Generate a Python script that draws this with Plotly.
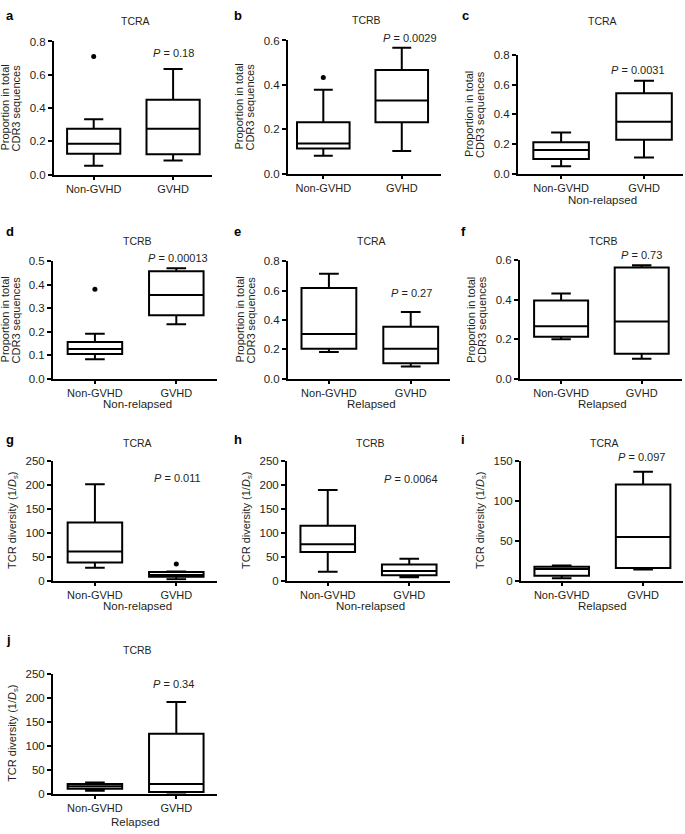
import plotly.graph_objects as go

W, H = 685, 834

categories = ["Non-GVHD", "GVHD"]

# box stats: [lower whisker, Q1, median, Q3, upper whisker]
a_non = [0.053, 0.125, 0.185, 0.275, 0.333]
a_gvhd = [0.085, 0.122, 0.275, 0.45, 0.635]
a_outliers = [0.71]

b_non = [0.08, 0.113, 0.136, 0.231, 0.378]
b_gvhd = [0.102, 0.231, 0.33, 0.467, 0.567]
b_outliers = [0.433]

c_non = [0.049, 0.098, 0.16, 0.211, 0.278]
c_gvhd = [0.109, 0.229, 0.351, 0.544, 0.627]

d_non = [0.082, 0.105, 0.126, 0.156, 0.191]
d_gvhd = [0.232, 0.27, 0.356, 0.457, 0.47]
d_outliers = [0.381]

e_non = [0.181, 0.203, 0.304, 0.617, 0.715]
e_gvhd = [0.083, 0.105, 0.203, 0.353, 0.454]

f_non = [0.2, 0.212, 0.265, 0.396, 0.431]
f_gvhd = [0.101, 0.126, 0.29, 0.564, 0.575]

g_non = [27, 38, 61, 122, 202]
g_gvhd = [3, 8, 12, 18, 19]
g_outliers_gvhd = [35]

h_non = [18.5, 60, 76, 115, 190]
h_gvhd = [7, 11, 20, 34, 46]

i_non = [3, 6, 14.5, 17.5, 19]
i_gvhd = [14, 16, 55, 121, 137]

j_non = [6, 10, 15, 20, 23]
j_gvhd = [1, 3, 20, 125, 192]

p_values = ["0.18", "0.0029", "0.0031", "0.00013", "0.27", "0.73", "0.011", "0.0064", "0.097", "0.34"]
titles = ["TCRA", "TCRB", "TCRA", "TCRB", "TCRA", "TCRB", "TCRA", "TCRB", "TCRA", "TCRB"]
subtitles = [None, None, "Non-relapsed", "Non-relapsed", "Relapsed", "Relapsed",
             "Non-relapsed", "Non-relapsed", "Relapsed", "Relapsed"]
letters = ["a", "b", "c", "d", "e", "f", "g", "h", "i", "j"]
y_max = [0.8, 0.6, 0.8, 0.5, 0.8, 0.6, 250, 250, 150, 250]
y_dtick = [0.2, 0.2, 0.2, 0.1, 0.2, 0.2, 50, 50, 50, 50]

prop_label_lines = ["Proportion in total", "CDR3 sequences"]
div_label = "TCR diversity (1/<i>D</i><sub>s</sub>)"

stats = [(a_non, a_gvhd), (b_non, b_gvhd), (c_non, c_gvhd), (d_non, d_gvhd), (e_non, e_gvhd),
         (f_non, f_gvhd), (g_non, g_gvhd), (h_non, h_gvhd), (i_non, i_gvhd), (j_non, j_gvhd)]
outliers = [(a_outliers, []), (b_outliers, []), ([], []), (d_outliers, []), ([], []),
            ([], []), ([], g_outliers_gvhd), ([], []), ([], []), ([], [])]

# layout geometry in pixels: axis left, axis right, top (y max), bottom (y 0), x range
geom = [
    (54, 212, 36, 171, [-0.5, 1.49]),
    (288, 441, 35, 170, [-0.45, 1.5]),
    (518, 683, 50, 170, [-0.52, 1.47]),
    (53, 217, 259, 378, [-0.515, 1.5]),
    (288, 450, 259, 378, [-0.5, 1.48]),
    (520, 682, 258, 378, [-0.51, 1.5]),
    (53, 217, 462, 583, [-0.515, 1.5]),
    (287, 450, 462, 583, [-0.5, 1.5]),
    (521, 683, 462, 583, [-0.5, 1.49]),
    (53, 217, 678, 799, [-0.515, 1.5]),
]
p_pos = [(173, 48), (410, 32), (638, 65), (178, 256), (411, 291), (641, 253),
         (177, 479), (411, 480), (641, 458), (173, 688)]
letter_pos = [(4, 10), (232, 10), (460, 10), (4, 229), (232, 229), (459, 229),
              (4, 440), (232, 440), (459, 440), (4, 643)]
sub_pos = [None, None, (602, 197), (137, 404), (371, 404), (602, 404),
           (137, 609), (370, 609), (602, 609), (135, 828)]
title_y = [15, 14, 15, 238, 238, 238, 443, 443, 443, 653]


def px(x):
    return x / W


def py(y):
    return 1 - y / H


FONT = "Liberation Sans, Arial, Helvetica, sans-serif"
TXT = "#231f20"

fig = go.Figure()
annotations = []
layout = {}

for k in range(10):
    x0, x1, yt, yb, xr = geom[k]
    sfx = "" if k == 0 else str(k + 1)
    xa, ya = "x" + sfx, "y" + sfx
    non, gv = stats[k]
    fig.add_trace(go.Box(
        x=[0, 1],
        lowerfence=[non[0], gv[0]], q1=[non[1], gv[1]], median=[non[2], gv[2]],
        q3=[non[3], gv[3]], upperfence=[non[4], gv[4]],
        width=0.67, whiskerwidth=0.36,
        line=dict(color="black", width=2), fillcolor="white",
        boxpoints=False, hoverinfo="skip", showlegend=False,
        xaxis=xa, yaxis=ya,
    ))
    on, og = outliers[k]
    ox = [0] * len(on) + [1] * len(og)
    oy = list(on) + list(og)
    if ox:
        fig.add_trace(go.Scatter(x=ox, y=oy, mode="markers",
                                 marker=dict(color="black", size=5),
                                 showlegend=False, hoverinfo="skip",
                                 xaxis=xa, yaxis=ya))
    layout["xaxis" + sfx] = dict(
        domain=[px(x0), px(x1)], range=xr, anchor=ya,
        tickvals=[0, 1], ticktext=categories, showgrid=False, zeroline=False,
        showline=True, linecolor="black", linewidth=2,
        ticks="outside", ticklen=3, tickwidth=1.5, tickcolor="black",
        tickfont=dict(family=FONT, size=11, color=TXT), fixedrange=True,
    )
    dt = y_dtick[k]
    nt = int(round(y_max[k] / dt))
    layout["yaxis" + sfx] = dict(
        domain=[py(yb), py(yt)], range=[0, y_max[k]], anchor=xa,
        tickvals=[round(i * dt, 3) for i in range(nt + 1)],
        tickformat=".1f" if y_max[k] < 5 else "d",
        showgrid=False, zeroline=False,
        showline=True, linecolor="black", linewidth=2,
        ticks="outside", ticklen=4, tickwidth=1.5, tickcolor="black",
        tickfont=dict(family=FONT, size=11.5, color=TXT), fixedrange=True,
    )
    # panel letter
    lx, ly = letter_pos[k]
    annotations.append(dict(text="<b>%s</b>" % letters[k], x=px(lx), y=py(ly), xref="paper", yref="paper",
                            xanchor="left", yanchor="middle", showarrow=False,
                            font=dict(family=FONT, size=13, color="black")))
    # title
    annotations.append(dict(text=titles[k], x=px((x0 + x1) / 2 + 2), y=py(title_y[k]), xref="paper", yref="paper",
                            xanchor="center", yanchor="middle", showarrow=False,
                            font=dict(family=FONT, size=10.5, color=TXT)))
    # p value
    pxx, pyy = p_pos[k]
    annotations.append(dict(text="<i>P</i> = %s" % p_values[k], x=px(pxx), y=py(pyy), xref="paper", yref="paper",
                            xanchor="center", yanchor="middle", showarrow=False,
                            font=dict(family=FONT, size=11, color=TXT)))
    # subtitle
    if sub_pos[k] is not None:
        sx, sy = sub_pos[k]
        annotations.append(dict(text=subtitles[k], x=px(sx), y=py(sy), xref="paper", yref="paper",
                                xanchor="center", yanchor="middle", showarrow=False,
                                font=dict(family=FONT, size=11.5, color=TXT)))
    # y-axis title
    ymid = py((yt + yb) / 2)
    if k >= 6:
        annotations.append(dict(text=div_label, x=px(x0 - 40), y=ymid,
                                xref="paper", yref="paper", textangle=-90,
                                xanchor="center", yanchor="middle", showarrow=False,
                                font=dict(family=FONT, size=11, color=TXT)))
    else:
        for off, line in zip((48.5, 37.5), prop_label_lines):
            annotations.append(dict(text=line, x=px(x0 - off), y=ymid,
                                    xref="paper", yref="paper", textangle=-90,
                                    xanchor="center", yanchor="middle", showarrow=False,
                                    font=dict(family=FONT, size=11, color=TXT)))

fig.update_layout(
    width=W, height=H, margin=dict(l=0, r=0, t=0, b=0),
    paper_bgcolor="white", plot_bgcolor="white",
    annotations=annotations, showlegend=False,
    **layout,
)

fig.write_html("out.html", config={"displayModeBar": False},
               post_script="document.body.style.margin='0';document.body.style.overflow='hidden';")
